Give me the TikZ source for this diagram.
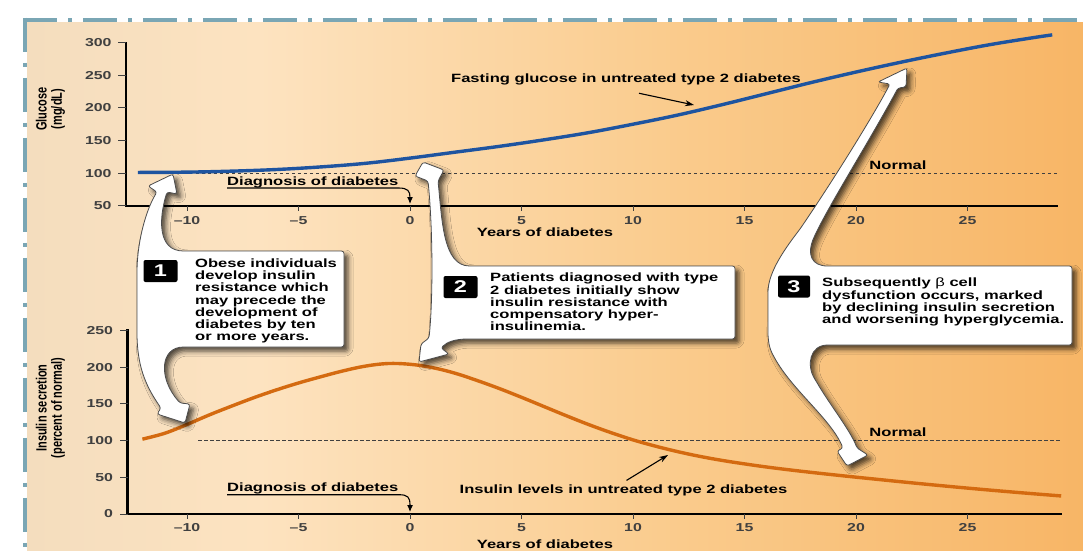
\documentclass[tikz,border=0pt]{standalone}
\usepackage{fontspec}
\setmainfont[FakeStretch=1.38]{Liberation Sans}
\newfontfamily\axisfont{Liberation Sans}
\usepackage{graphicx}
\usepackage{tikz}
\usetikzlibrary{arrows.meta,shadows.blur}

\definecolor{bordercol}{RGB}{122,166,180}
\definecolor{bgA}{RGB}{218,202,178}
\definecolor{bgB}{RGB}{233,214,188}
\definecolor{bgC}{RGB}{253,227,192}
\definecolor{bgD}{RGB}{250,204,142}
\definecolor{bgE}{RGB}{247,178,96}
\definecolor{bgF}{RGB}{244,162,72}
\definecolor{glucblue}{RGB}{30,84,160}
\definecolor{insorange}{RGB}{212,106,16}

\pgfdeclarehorizontalshading{panelshade}{100bp}{color(0bp)=(bgA); color(12bp)=(bgB); color(36bp)=(bgC); color(55bp)=(bgD); color(78bp)=(bgE); color(100bp)=(bgF)}

\begin{document}
\begin{tikzpicture}[x=1pt, y=-1pt,
    lbl/.style={font=\bfseries\fontsize{12}{12.2}\selectfont, inner sep=0pt},
    ticklbl/.style={font=\bfseries\fontsize{11.5}{12}\selectfont, inner sep=0pt},
    axistitle/.style={rotate=90, inner sep=0pt, font=\axisfont\bfseries\fontsize{11}{10.8}\selectfont},
    axisline/.style={line width=2.6pt, black},
    tickmark/.style={line width=1pt, black!75},
    normalline/.style={line width=0.8pt, black!75, dash pattern=on 3.5pt off 2.5pt},
    callout/.style={fill=white, draw=black!70, line width=0.8pt, rounded corners=2.5pt,
      blur shadow={shadow xshift=4pt, shadow yshift=-4pt, shadow blur radius=5pt,
        shadow opacity=70}},
    numbox/.style={fill=black, text=white, rounded corners=2pt, minimum width=34pt,
      minimum height=22pt, inner sep=0pt, font=\bfseries\fontsize{17}{17}\selectfont},
    boxtext/.style={lbl, align=left, anchor=north west},
    diagline/.style={line width=1.1pt, -{Latex[length=7pt,width=6pt]}},
    lblarrow/.style={line width=1.1pt, -{Stealth[length=9pt,width=6pt]}}]

\useasboundingbox (0,0) rectangle (1083,550);
\fill[white] (0,0) rectangle (1083,550);
\shade[shading=panelshade] (27,22) rectangle (1083,550);

% glucose panel
\draw[axisline] (126,42) -- (126,206) -- (1058,206);
\foreach \g in {50,100,...,300}
  \draw[tickmark] (126,{205.7-(\g-50)*0.652}) -- ++(-8,0) node[ticklbl, anchor=east, xshift=-6pt] (gy\g) {\g};
\foreach \yr/\txt in {-10/–10,-5/–5,0/0,5/5,10/10,15/15,20/20,25/25}
  \draw[tickmark] ({410+22.3*(\yr)},206) -- ++(0,5) node[ticklbl, anchor=north, yshift=-5pt] (gx\yr) {\txt};
\node[axistitle] (gtitle) at (51,109) {\scalebox{1}[1.35]{\begin{tabular}{@{}c@{}}Glucose\\(mg/dL)\end{tabular}}};
\node[lbl, anchor=base] (gyears) at (545,236) {Years of diabetes};

\begin{scope}[shift={(410,238.3)}, x=22.3pt, y=0.652pt]
  \draw[normalline] (-9.6,100) -- (29,100);
  \draw[glucblue, line width=3.4pt] plot[smooth, tension=0.6] coordinates {
    (-12.2,101) (-10,101.5) (-8,103) (-6,105.5) (-4,109.5) (-2,115) (0,123) (2,132)
    (4,141) (6,151) (8,162) (10,175) (12,189) (14,205) (16,222) (18,239) (20,255)
    (22,270) (24,284) (26,297) (28,308) (28.8,312)};
\end{scope}

\node[lbl, anchor=base] (gnormal) at (898,169.3) {Normal};
\node[lbl, anchor=base] (fastlbl) at (626,82.5) {Fasting glucose in untreated type 2 diabetes};
\coordinate (gtip) at (694,105);
\draw[lblarrow] ([shift={(13,8)}]fastlbl.south) -- (gtip);

\node[lbl, anchor=base west] (diagtop) at (227,185) {Diagnosis of diabetes};
\coordinate (dtip0) at (410,204);
\draw[diagline] ([yshift=-3pt]diagtop.base west) -- ([yshift=-3pt]diagtop.base east)
  .. controls (408,188) and (410,191) .. (dtip0);

% insulin panel
\draw[axisline] (127.5,329) -- (127.5,514) -- (1062,514);
\foreach \v in {0,50,...,250}
  \draw[tickmark] (127.5,{514-\v*0.734}) -- ++(-8,0) node[ticklbl, anchor=east, xshift=-6pt] (iy\v) {\v};
\foreach \yr/\txt in {-10/–10,-5/–5,0/0,5/5,10/10,15/15,20/20,25/25}
  \draw[tickmark] ({410+22.3*(\yr)},514) -- ++(0,5) node[ticklbl, anchor=north, yshift=-4pt] (ix\yr) {\txt};
\node[axistitle] (ititle) at (51,408) {\scalebox{1}[1.35]{\begin{tabular}{@{}c@{}}Insulin secretion\\(percent of normal)\end{tabular}}};
\node[lbl, anchor=base] (iyears) at (545,548) {Years of diabetes};

\begin{scope}[shift={(410,514)}, x=22.3pt, y=0.734pt]
  \draw[normalline] (-9.5,100) -- (29.2,100);
  \draw[insorange, line width=3.4pt] plot[smooth, tension=0.6] coordinates {
    (-12,102) (-11,110) (-10,122) (-9,135) (-8,147) (-7,158.5) (-6,169) (-5,178.5)
    (-4,187) (-3,195) (-2,201.5) (-1,205) (0,204) (1,199.5) (2,192) (3,182) (4,171)
    (5,159) (6,146.5) (7,134) (8,122) (9,111) (10,101) (11,92.5) (12,85) (13,78.5)
    (14,73) (15,68.3) (16,64) (17,60.2) (18,56.7) (19,53.4) (20,50.2) (21,47.1)
    (22,44) (23,41) (24,38.1) (25,35.3) (26,32.6) (27,30) (28,27.5) (29.2,24.6)};
\end{scope}

\node[lbl, anchor=base] (inormal) at (898,436.7) {Normal};
\node[lbl, anchor=base] (inslbl) at (623.5,493.3) {Insulin levels in untreated type 2 diabetes};
\coordinate (itip) at (668,455);
\draw[lblarrow] ([shift={(3,-4)}]inslbl.north) -- (itip);

\node[lbl, anchor=base west] (diagbot) at (227,491.7) {Diagnosis of diabetes};
\coordinate (dtip1) at (410,512);
\draw[diagline] ([yshift=-3pt]diagbot.base west) -- ([yshift=-3pt]diagbot.base east)
  .. controls (408,494.7) and (410,497) .. (dtip1);

% callout 1
\draw[callout] (173,174) -- (177,194) -- (167,192)
  .. controls (159,218) and (157,251) .. (186,251)
  -- (344,251) -- (344,347) -- (186,347)
  .. controls (160,347) and (158,378) .. (180,403)
  -- (190,404) -- (185,423) -- (157,414) -- (161,408)
  .. controls (145,385) and (137,365) .. (137,330)
  -- (137,275) .. controls (137,240) and (147,208) .. (157,192)
  -- (148,186) -- cycle;
\node[numbox] (n1) at (160.5,271) {1};
\node[boxtext] (t1) at (195,258.5) {Obese individuals\\develop insulin\\resistance which\\may precede the\\development of\\diabetes by ten\\or more years.};

% callout 2
\draw[callout] (423,162) -- (444,170) -- (438,181)
  .. controls (442,220) and (443,266) .. (472,266)
  -- (735,266) -- (735,339) -- (470,339)
  .. controls (455,339) and (447,342) .. (441,348)
  -- (449,354) -- (419,362) -- (421,344) -- (429,338)
  .. controls (433,300) and (433,230) .. (428,181)
  -- (415,176) -- cycle;
\node[numbox] (n2) at (460.5,287) {2};
\node[boxtext] (t2) at (490,273) {Patients diagnosed with type\\2 diabetes initially show\\insulin resistance with\\compensatory hyper-\\insulinemia.};

% callout 3
\draw[callout] (907,68) -- (906,87) -- (898,88)
  .. controls (870,140) and (832,200) .. (815,235)
  .. controls (806,255) and (812,266) .. (830,266)
  -- (1072,266) -- (1072,345) -- (830,345)
  .. controls (810,345) and (806,365) .. (816,381)
  .. controls (830,405) and (850,430) .. (857,448)
  -- (868,455) -- (847,466) -- (837,451) -- (843,448)
  .. controls (830,418) and (792,390) .. (773,355)
  .. controls (767,343) and (768,330) .. (768,318)
  -- (768,295) .. controls (768,275) and (780,255) .. (800,229)
  .. controls (832,182) and (872,118) .. (890,84)
  -- (878,82) -- cycle;
\node[numbox, minimum width=32pt] (n3) at (794,286.5) {3};
\node[boxtext] (t3) at (822,278) {Subsequently {\mdseries β} cell\\dysfunction occurs, marked\\by declining insulin secretion\\and worsening hyperglycemia.};

% frame
\draw[bordercol, line width=4pt, dash pattern=on 34pt off 11pt on 4pt off 11pt] (23,19.5) -- (1083,19.5);
\draw[bordercol, line width=3.5pt, dash pattern=on 34pt off 11pt on 4pt off 11pt] (25,17.5) -- (25,550);
\end{tikzpicture}
\end{document}
